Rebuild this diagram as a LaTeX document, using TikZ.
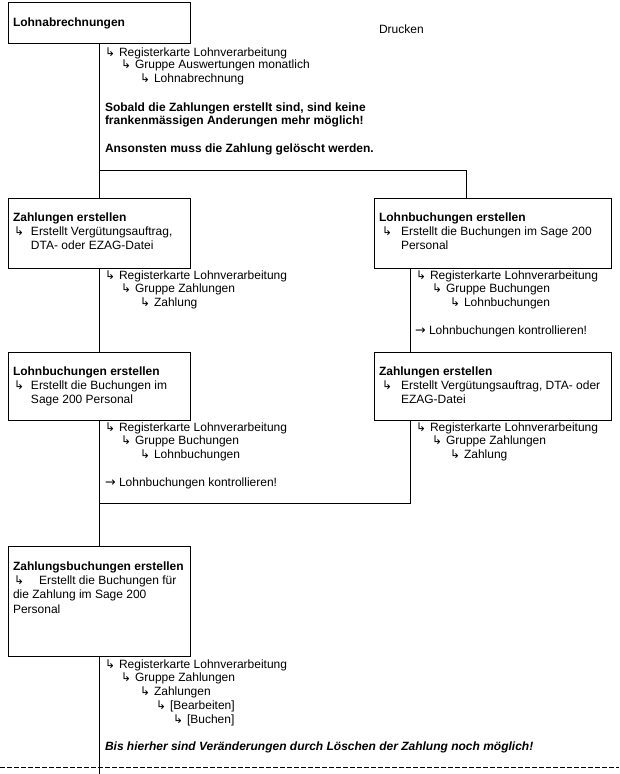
\documentclass[tikz,border=0pt]{standalone}
\usepackage{fontspec}
\setmainfont{Liberation Sans}
\newfontfamily\symf{DejaVu Sans}
\newcommand\arr[1]{\makebox[#1][l]{\raisebox{0pt}{\fontsize{9}{9}\symf ↳}}}
\newcommand\rarr{\makebox[10.5pt][l]{\fontsize{9.5}{9}\symf →}}
\begin{document}
\begin{tikzpicture}[x=0.75pt,y=-0.75pt,
  box/.style={draw,line width=0.75pt,inner sep=0pt,outer sep=0pt,rectangle},
  smallbox/.style={box,minimum width=136.5pt},
  widebox/.style={box,minimum width=177.75pt},
  txt/.style={anchor=base west,inner sep=0pt,outer sep=0pt,font=\fontsize{9}{10.5}\selectfont},
  btxt/.style={txt,font=\fontsize{9}{10.5}\selectfont\bfseries},
  itxt/.style={txt,font=\fontsize{9}{10.5}\selectfont\bfseries\itshape},
  conn/.style={line width=0.75pt},
]
\useasboundingbox (0,0) rectangle (619,774);
\fill[white] (0,0) rectangle (619,774);

% boxes
\node[smallbox,minimum height=30.75pt] (b1) at (99,23.5) {};
\node[smallbox,minimum height=52.5pt] (b3) at (99,233) {};
\node[widebox,minimum height=52.5pt] (b2) at (492.5,233) {};
\node[smallbox,minimum height=51pt] (b5) at (99,386) {};
\node[widebox,minimum height=51pt] (b4) at (492.5,386) {};
\node[smallbox,minimum height=82.5pt] (b7) at (99,601) {};

% connectors
\coordinate (c1) at (99,170);
\coordinate (c2) at (466,170);
\coordinate (c3) at (466,198);
\coordinate (c4) at (410,268);
\coordinate (c5) at (410,352);
\coordinate (c6) at (410,420);
\coordinate (c7) at (410,503);
\coordinate (c8) at (99,503);
\coordinate (cend) at (99,774);
\draw[conn] (b1.south) -- (b3.north);
\draw[conn] (c1) -- (c2) -- (c3);
\draw[conn] (b3.south) -- (b5.north);
\draw[conn] (b5.south) -- (b7.north);
\draw[conn] (b7.south) -- (cend);
\draw[conn] (c4) -- (c5);
\draw[conn] (c6) -- (c7) -- (c8);
\coordinate (dl) at (0,767);
\coordinate (dr) at (619,767);
\draw[line width=0.75pt,dash pattern=on 3.75pt off 1.5pt] (dl) -- (dr);

% texts
\node[btxt] (t1) at (13,27) {Lohnabrechnungen};
\node[txt] (tdr) at (379,34) {Drucken};
\node[txt] (a1) at (105,56) {\arr{10.5pt}Registerkarte Lohnverarbeitung};
\node[txt] (a2) at (121,69) {\arr{10.5pt}Gruppe Auswertungen monatlich};
\node[txt] (a3) at (140,83) {\arr{10.5pt}Lohnabrechnung};
\node[btxt] (n1) at (105,111) {Sobald die Zahlungen erstellt sind, sind keine};
\node[btxt] (n2) at (105,124) {frankenmässigen Anderungen mehr möglich!};
\node[btxt] (n3) at (105,152) {Ansonsten muss die Zahlung gelöscht werden.};

% left Zahlungen erstellen
\node[btxt] (z1) at (13,221) {Zahlungen erstellen};
\node[txt] (z2) at (14,235) {\arr{12.75pt}Erstellt Vergütungsauftrag,};
\node[txt] (z3) at (31,249) {DTA- oder EZAG-Datei};
\node[txt] (z4) at (105,279) {\arr{10.5pt}Registerkarte Lohnverarbeitung};
\node[txt] (z5) at (121,292) {\arr{10.5pt}Gruppe Zahlungen};
\node[txt] (z6) at (140,306) {\arr{10.5pt}Zahlung};

% right Lohnbuchungen erstellen
\node[btxt] (l1) at (379,221) {Lohnbuchungen erstellen};
\node[txt] (l2) at (382,235) {\arr{14.25pt}Erstellt die Buchungen im Sage 200};
\node[txt] (l3) at (401,249) {Personal};
\node[txt] (l4) at (416,279) {\arr{10.5pt}Registerkarte Lohnverarbeitung};
\node[txt] (l5) at (432,292) {\arr{10.5pt}Gruppe Buchungen};
\node[txt] (l6) at (450,306) {\arr{10.5pt}Lohnbuchungen};
\node[txt] (l7) at (415,334) {\rarr Lohnbuchungen kontrollieren!};

% left Lohnbuchungen erstellen
\node[btxt] (m1) at (13,375) {Lohnbuchungen erstellen};
\node[txt] (m2) at (14,389) {\arr{12.75pt}Erstellt die Buchungen im};
\node[txt] (m3) at (31,403) {Sage 200 Personal};
\node[txt] (m4) at (105,431) {\arr{10.5pt}Registerkarte Lohnverarbeitung};
\node[txt] (m5) at (121,444) {\arr{10.5pt}Gruppe Buchungen};
\node[txt] (m6) at (140,458) {\arr{10.5pt}Lohnbuchungen};
\node[txt] (m7) at (105,486) {\rarr Lohnbuchungen kontrollieren!};

% right Zahlungen erstellen
\node[btxt] (r1) at (379,375) {Zahlungen erstellen};
\node[txt] (r2) at (382,389) {\arr{14.25pt}Erstellt Vergütungsauftrag, DTA- oder};
\node[txt] (r3) at (401,403) {EZAG-Datei};
\node[txt] (r4) at (416,431) {\arr{10.5pt}Registerkarte Lohnverarbeitung};
\node[txt] (r5) at (432,444) {\arr{10.5pt}Gruppe Zahlungen};
\node[txt] (r6) at (450,458) {\arr{10.5pt}Zahlung};

% Zahlungsbuchungen
\node[btxt] (s1) at (13,570) {Zahlungsbuchungen erstellen};
\node[txt] (s2) at (14,584) {\arr{18.75pt}Erstellt die Buchungen für};
\node[txt] (s3) at (13,598) {die Zahlung im Sage 200};
\node[txt] (s4) at (13,613) {Personal};
\node[txt] (s5) at (105,668) {\arr{10.5pt}Registerkarte Lohnverarbeitung};
\node[txt] (s6) at (121,681) {\arr{10.5pt}Gruppe Zahlungen};
\node[txt] (s7) at (140,695) {\arr{10.5pt}Zahlungen};
\node[txt] (s8) at (156,709) {\arr{10.5pt}[Bearbeiten]};
\node[txt] (s9) at (173,723) {\arr{10.5pt}[Buchen]};
\node[itxt] (s10) at (105,750) {Bis hierher sind Veränderungen durch Löschen der Zahlung noch möglich!};
\end{tikzpicture}
\end{document}
